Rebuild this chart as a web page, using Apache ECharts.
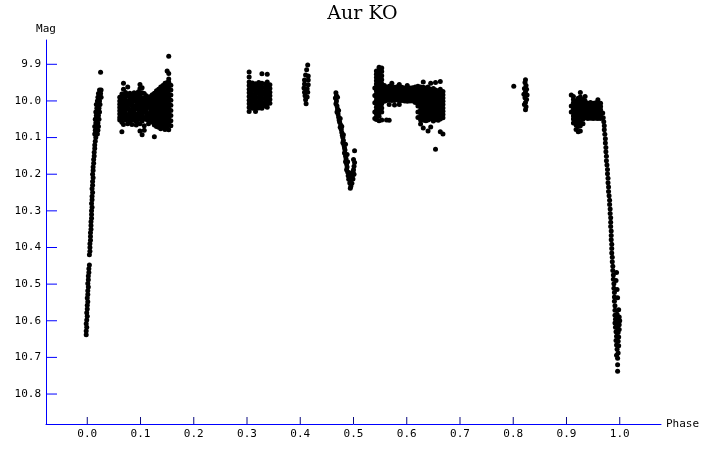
<!DOCTYPE html>
<html><head><meta charset="utf-8">
<script src="https://cdn.jsdelivr.net/npm/echarts@6/dist/echarts.min.js"></script>
<style>html,body{margin:0;padding:0;background:#fff}#c{width:725px;height:457px;background:#fff}</style>
</head><body><div id="c"></div>
<script>
const titleText = 'Aur KO';
const xTicks = [0.0,0.1,0.2,0.3,0.4,0.5,0.6,0.7,0.8,0.9,1.0];
const yTicks = [9.9,10.0,10.1,10.2,10.3,10.4,10.5,10.6,10.7,10.8];

// ascending branch after primary minimum (phase, mag)
const riseA = [[-0.002,10.638],[-0.002,10.628],[-0.001,10.618],[-0.002,10.608],[-0.001,10.598],[0.000,10.588],[-0.001,10.578],[0.000,10.568],[0.000,10.558],[0.001,10.548],[0.000,10.538],[0.001,10.528],[0.001,10.518],[0.002,10.508],[0.001,10.498],[0.002,10.488],[0.002,10.478],[0.003,10.468],[0.003,10.458],[0.004,10.448],[0.004,10.420],[0.005,10.410],[0.005,10.400],[0.005,10.390],[0.006,10.380],[0.006,10.370],[0.006,10.360],[0.007,10.350],[0.007,10.340],[0.007,10.330],[0.008,10.320],[0.008,10.310],[0.008,10.300],[0.009,10.290],[0.008,10.280],[0.009,10.270],[0.009,10.260],[0.010,10.250],[0.009,10.240],[0.010,10.230],[0.010,10.220],[0.011,10.210],[0.010,10.200],[0.011,10.190],[0.011,10.180],[0.012,10.170],[0.012,10.160],[0.013,10.150],[0.013,10.140],[0.014,10.130],[0.014,10.120],[0.015,10.110],[0.016,10.100],
[0.014,10.090],[0.019,10.090],[0.015,10.080],[0.020,10.080],[0.014,10.070],[0.018,10.070],[0.021,10.070],[0.016,10.060],[0.020,10.060],[0.015,10.050],[0.019,10.050],[0.022,10.050],[0.017,10.040],[0.021,10.040],[0.016,10.030],[0.020,10.030],[0.023,10.030],[0.018,10.020],[0.022,10.020],[0.017,10.010],[0.021,10.010],[0.024,10.010],[0.019,10.000],[0.023,10.000],[0.020,9.990],[0.024,9.990],[0.026,9.990],[0.021,9.980],[0.025,9.980],[0.023,9.970],[0.026,9.970],[0.025,9.922]];

// plateau block 0.06-0.16 : [phase, [mags]]
const plateauB = [
[0.061,[9.990,10.000,10.009,10.018,10.027,10.036,10.045,10.052]],
[0.065,[9.981,9.995,10.013,10.031,10.040,10.058,10.084]],
[0.068,[9.952,9.968,9.984,9.993,10.004,10.022,10.047,10.064]],
[0.072,[9.977,9.989,9.998,10.007,10.016,10.025,10.034,10.043,10.052]],
[0.076,[9.962,9.983,10.001,10.011,10.020,10.038,10.049,10.062]],
[0.080,[9.979,9.990,9.999,10.010,10.028,10.037,10.046,10.055]],
[0.084,[9.984,9.994,10.004,10.013,10.022,10.031,10.040,10.050,10.064]],
[0.088,[9.978,9.988,9.998,10.016,10.025,10.034,10.044,10.053]],
[0.092,[9.983,9.993,10.002,10.011,10.020,10.038,10.047,10.056,10.066]],
[0.096,[9.975,9.988,9.997,10.006,10.015,10.024,10.033,10.042,10.051]],
[0.099,[9.955,9.966,9.981,9.999,10.009,10.027,10.045,10.062,10.082]],
[0.103,[9.964,9.978,9.991,10.000,10.010,10.019,10.028,10.037,10.046,10.055,10.092]],
[0.107,[9.980,9.993,10.003,10.012,10.021,10.030,10.048,10.068,10.080]],
[0.111,[9.986,9.996,10.006,10.015,10.024,10.033,10.042,10.051]],
[0.115,[9.990,9.999,10.008,10.017,10.035,10.044,10.053,10.062]],
[0.119,[9.988,10.002,10.011,10.020,10.029,10.038,10.047,10.056]],
[0.122,[9.983,9.995,10.004,10.013,10.022,10.031,10.040,10.049,10.058]],
[0.126,[9.979,9.992,10.001,10.010,10.019,10.028,10.037,10.046,10.055,10.066,10.098]],
[0.130,[9.972,9.985,9.994,10.003,10.012,10.021,10.030,10.039,10.048,10.057,10.070]],
[0.134,[9.968,9.979,9.990,9.999,10.008,10.017,10.026,10.035,10.044,10.053,10.062,10.072]],
[0.138,[9.962,9.974,9.985,9.995,10.004,10.013,10.022,10.031,10.040,10.049,10.058,10.067,10.076]],
[0.142,[9.958,9.969,9.980,9.990,9.999,10.008,10.017,10.026,10.035,10.044,10.053,10.062,10.071]],
[0.146,[9.952,9.963,9.975,9.986,9.996,10.005,10.014,10.023,10.032,10.041,10.050,10.059,10.068,10.078]],
[0.150,[9.918,9.950,9.961,9.972,9.983,9.993,10.002,10.011,10.020,10.029,10.038,10.047,10.056,10.065,10.074]],
[0.153,[9.878,9.925,9.940,9.949,9.960,9.971,9.982,9.992,10.001,10.010,10.019,10.028,10.037,10.046,10.055,10.064,10.079]],
[0.157,[9.957,9.970,9.984,9.998,10.012,10.026,10.040,10.054,10.068]]];

// block 0.30-0.345
const blockC = [
[0.304,[9.921,9.935,9.948,9.958,9.968,9.978,9.988,9.998,10.008,10.018,10.029]],
[0.310,[9.951,9.961,9.971,9.981,9.991,10.001,10.011,10.020]],
[0.316,[9.953,9.962,9.972,9.982,9.992,10.002,10.012,10.021,10.029]],
[0.322,[9.950,9.960,9.970,9.980,9.990,10.000,10.010,10.019]],
[0.328,[9.926,9.952,9.963,9.973,9.983,9.993,10.003,10.013,10.020]],
[0.334,[9.954,9.964,9.974,9.984,9.994,10.004,10.014]],
[0.338,[9.927,9.948,9.958,9.968,9.978,9.988,9.998,10.008,10.017]],
[0.343,[9.956,9.966,9.976,9.986,9.996,10.006]]];

// narrow group near 0.41
const groupD = [[0.414,9.902],[0.412,9.915],[0.410,9.929],[0.415,9.932],[0.408,9.943],[0.415,9.943],[0.408,9.954],[0.415,9.956],[0.407,9.965],[0.413,9.967],[0.408,9.976],[0.414,9.976],[0.409,9.986],[0.413,9.989],[0.410,9.997],[0.411,10.008]];

// secondary minimum near 0.49
const dipE = [[0.467,9.978],[0.468,9.986],[0.466,9.992],[0.468,10.000],[0.467,10.008],[0.469,10.014],[0.470,10.022],[0.469,10.030],[0.471,10.036],[0.472,10.044],[0.473,10.052],[0.474,10.058],[0.476,10.066],[0.475,10.072],[0.477,10.078],[0.478,10.086],[0.479,10.094],[0.480,10.100],[0.481,10.108],[0.480,10.114],[0.482,10.120],[0.483,10.128],[0.484,10.134],[0.483,10.142],[0.485,10.150],[0.486,10.158],[0.485,10.166],[0.487,10.172],[0.488,10.180],[0.487,10.188],
[0.470,9.990],[0.472,10.026],[0.475,10.048],[0.478,10.070],[0.481,10.092],[0.485,10.118],[0.488,10.146],[0.489,10.166],
[0.489,10.194],[0.492,10.196],[0.496,10.198],[0.499,10.194],[0.490,10.204],[0.494,10.206],[0.498,10.204],[0.501,10.200],[0.491,10.214],[0.495,10.216],[0.499,10.213],[0.493,10.224],[0.497,10.225],[0.495,10.233],[0.494,10.238],[0.500,10.188],
[0.502,10.136],[0.500,10.160],[0.502,10.168],[0.501,10.178]];

// block 0.54-0.67 : left column, band, right block
const blockF = [
[0.540,[9.965,9.985,10.005,10.030,10.048]],
[0.543,[9.918,9.927,9.936,9.945,9.954,9.963,9.972,9.981,9.990,9.999,10.008,10.017,10.026,10.035,10.044,10.051]],
[0.548,[9.908,9.916,9.925,9.934,9.943,9.952,9.961,9.970,9.979,9.988,9.997,10.006,10.015,10.024,10.033,10.042,10.054]],
[0.553,[9.910,9.920,9.931,9.942,9.953,9.964,9.975,9.986,9.997,10.008,10.019,10.030,10.052]],
[0.558,[9.958,9.966,9.975,9.984,9.993,10.001]],
[0.562,[9.963,9.972,9.981,9.990,9.999,10.052]],
[0.567,[9.960,9.970,9.979,9.988,9.997,10.010,10.053]],
[0.572,[9.952,9.963,9.972,9.981,9.990,9.999]],
[0.577,[9.963,9.972,9.981,9.990,9.999,10.011]],
[0.582,[9.961,9.970,9.979,9.988,9.997]],
[0.586,[9.955,9.964,9.973,9.982,9.991,10.000,10.010]],
[0.591,[9.963,9.972,9.981,9.990,9.999]],
[0.596,[9.965,9.974,9.983,9.992,10.000]],
[0.601,[9.958,9.966,9.975,9.984,9.993,10.001]],
[0.606,[9.965,9.974,9.983,9.992,10.000]],
[0.611,[9.964,9.973,9.982,9.991,10.000]],
[0.616,[9.962,9.971,9.980,9.989,9.998,10.004]],
[0.621,[9.960,9.969,9.978,9.987,9.996,10.005,10.014,10.030,10.045]],
[0.626,[9.962,9.971,9.980,9.989,9.998,10.007,10.016,10.025,10.034,10.043,10.052,10.063]],
[0.631,[9.948,9.963,9.972,9.981,9.990,9.999,10.008,10.017,10.026,10.035,10.044,10.053,10.074]],
[0.636,[9.965,9.974,9.983,9.992,10.001,10.010,10.019,10.028,10.037,10.046,10.054]],
[0.640,[9.962,9.971,9.980,9.989,9.998,10.007,10.016,10.025,10.034,10.043,10.052,10.082]],
[0.645,[9.952,9.968,9.977,9.986,9.995,10.004,10.013,10.022,10.031,10.040,10.049,10.071]],
[0.650,[9.966,9.975,9.984,9.993,10.002,10.011,10.020,10.029,10.038,10.047,10.055]],
[0.654,[9.950,9.970,9.979,9.988,9.997,10.006,10.015,10.024,10.033,10.042,10.051,10.132]],
[0.659,[9.972,9.981,9.990,9.999,10.008,10.017,10.026,10.035,10.044,10.053]],
[0.663,[9.947,9.968,9.977,9.986,9.995,10.004,10.013,10.022,10.031,10.040,10.049,10.084]],
[0.668,[9.974,9.983,9.992,10.001,10.010,10.019,10.028,10.037,10.046,10.090]]];

// group near 0.82
const groupG = [[0.801,9.960],[0.823,9.942],[0.822,9.950],[0.824,9.958],[0.821,9.966],[0.825,9.968],[0.823,9.975],[0.820,9.982],[0.826,9.984],[0.822,9.991],[0.825,9.996],[0.823,10.004],[0.821,10.010],[0.824,10.016],[0.823,10.024]];

// block 0.91-0.97 before primary minimum
const blockH = [
[0.909,[9.984,10.014,10.030]],
[0.913,[9.988,9.996,10.005,10.014,10.023,10.032,10.041,10.049,10.060]],
[0.918,[10.000,10.009,10.018,10.027,10.036,10.045,10.056,10.066,10.078]],
[0.922,[9.993,10.002,10.011,10.020,10.029,10.038,10.047,10.058,10.070,10.084]],
[0.926,[9.977,9.989,9.998,10.008,10.017,10.026,10.035,10.044,10.056,10.068,10.082]],
[0.931,[9.996,10.005,10.014,10.023,10.032,10.041,10.050,10.062]],
[0.935,[9.988,10.000,10.010,10.019,10.028,10.037,10.046]],
[0.940,[10.006,10.015,10.024,10.033,10.042,10.048]],
[0.945,[10.004,10.013,10.022,10.031,10.040,10.047]],
[0.950,[10.006,10.015,10.024,10.033,10.042,10.048]],
[0.955,[10.005,10.014,10.023,10.032,10.041,10.047]],
[0.959,[9.997,10.006,10.015,10.024,10.033,10.042,10.048]],
[0.964,[10.006,10.015,10.024,10.033,10.042,10.048]]];

// descending branch into primary minimum
const fallH = [[0.968,10.033],[0.969,10.046],[0.970,10.057],[0.971,10.068],[0.971,10.079],[0.972,10.091],[0.973,10.103],[0.973,10.115],[0.974,10.127],[0.974,10.139],[0.975,10.151],[0.975,10.163],[0.976,10.175],[0.977,10.187],[0.977,10.199],[0.978,10.211],[0.978,10.223],[0.979,10.235],[0.979,10.247],[0.980,10.259],[0.981,10.271],[0.981,10.283],[0.982,10.295],[0.982,10.307],[0.983,10.319],[0.983,10.331],[0.983,10.343],[0.984,10.355],[0.984,10.367],[0.984,10.379],[0.985,10.391],[0.985,10.403],[0.985,10.415],[0.986,10.427],[0.986,10.439],[0.987,10.451],[0.987,10.463],[0.988,10.475],[0.988,10.487],[0.989,10.499],[0.989,10.511],[0.990,10.523],[0.990,10.535],[0.990,10.547],[0.991,10.559],[0.991,10.571],
[0.994,10.468],[0.993,10.490],[0.995,10.515],[0.996,10.537],[0.998,10.570],
[0.991,10.585],[0.995,10.582],[0.999,10.590],[0.992,10.596],[0.996,10.594],[1.000,10.600],[0.991,10.606],[0.995,10.607],[0.999,10.611],[0.992,10.618],[0.996,10.620],[0.999,10.624],[0.993,10.630],[0.997,10.632],[0.994,10.642],[0.998,10.644],[0.993,10.654],[0.997,10.656],[0.994,10.666],[0.998,10.668],[0.995,10.678],[0.997,10.688],[0.994,10.694],[0.996,10.702],[0.996,10.720],[0.996,10.738]];

function fromCols(cols){const out=[];cols.forEach(function(c){c[1].forEach(function(m){out.push([c[0],m]);});});return out;}
const points = [].concat(riseA, fromCols(plateauB), fromCols(blockC), groupD, dipE, fromCols(blockF), groupG, fromCols(blockH), fallH);

const xMin = -0.0775, xMax = 1.0775, yMin = 9.8337, yMax = 10.8818;
const mono = 'DejaVu Sans Mono';
// tick marks as tiny rect symbols placed on the axes through the chart's own scales
const xTickMarks = xTicks.map(function(v){return [v, yMax];});
const yTickMarks = yTicks.map(function(v){return [xMin, v];});

const chart = echarts.init(document.getElementById('c'), null, {renderer:'canvas'});
chart.setOption({
  animation:false,
  title:{text:titleText,left:'center',top:0,textStyle:{fontFamily:'DejaVu Serif',fontSize:19,fontWeight:'normal',color:'#000'}},
  grid:{left:46,right:64,top:40,bottom:33},
  xAxis:{type:'value',min:xMin,max:xMax,
    name:'Phase',nameLocation:'end',nameGap:5,
    nameTextStyle:{fontFamily:mono,fontSize:11,color:'#000',align:'left',verticalAlign:'middle'},
    axisLine:{show:true,onZero:false,lineStyle:{color:'#0000ff',width:1}},
    axisTick:{show:false},
    axisLabel:{customValues:xTicks,margin:5,fontFamily:mono,fontSize:11,color:'#000',formatter:function(v){return v.toFixed(1);}},
    splitLine:{show:false}},
  yAxis:{type:'value',inverse:true,min:yMin,max:yMax,
    name:'Mag',nameLocation:'start',nameGap:11,
    nameTextStyle:{fontFamily:mono,fontSize:11,color:'#000',align:'center',verticalAlign:'middle'},
    axisLine:{show:true,onZero:false,lineStyle:{color:'#0000ff',width:1}},
    axisTick:{show:false},
    axisLabel:{customValues:yTicks,margin:5,fontFamily:mono,fontSize:11,color:'#000',formatter:function(v){return v.toFixed(1);}},
    splitLine:{show:false}},
  series:[
    {type:'scatter',data:points,symbol:'circle',symbolSize:5,itemStyle:{color:'#000',opacity:1},silent:true,z:2},
    {type:'scatter',data:xTickMarks,symbol:'rect',symbolSize:[1,7],symbolOffset:[0,-3.5],clip:false,itemStyle:{color:'#0a0a80',opacity:1},silent:true,z:5},
    {type:'scatter',data:yTickMarks,symbol:'rect',symbolSize:[11,1],symbolOffset:[5.5,0],clip:false,itemStyle:{color:'#0000ff',opacity:1},silent:true,z:5}
  ]
});
</script></body></html>
